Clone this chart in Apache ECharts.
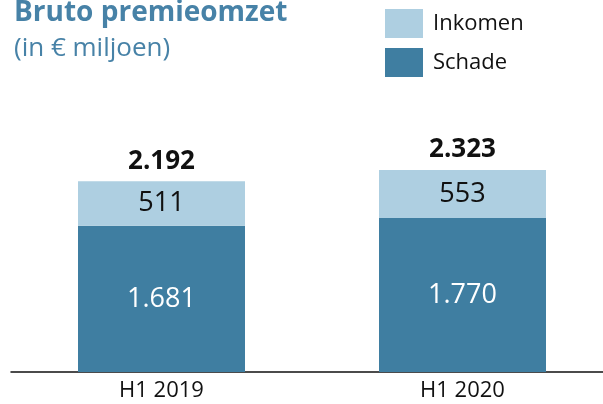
<!DOCTYPE html>
<html>
<head>
<meta charset="utf-8">
<script src="https://cdn.jsdelivr.net/npm/echarts@6/dist/echarts.min.js"></script>
<style>
  html, body { margin: 0; padding: 0; background: #fff; }
  #chart { width: 603px; height: 404px; }
</style>
</head>
<body>
<div id="chart"></div>
<script>
  const categories = ['H1 2019', 'H1 2020'];
  const schade = [1681, 1770];
  const inkomen = [511, 553];
  const totals = [2192, 2323];

  const DARK = '#3f7ea1';
  const LIGHT = '#aecfe1';
  const FONT = '"Open Sans", "Noto Sans", sans-serif';

  // Dutch thousands separator
  const fmt = (v) => String(v).replace(/\B(?=(\d{3})+(?!\d))/g, '.');

  const chart = echarts.init(document.getElementById('chart'), null, { renderer: 'canvas' });

  chart.setOption({
    animation: false,
    textStyle: { fontFamily: FONT },
    title: {
      text: 'Bruto premieomzet',
      subtext: '(in € miljoen)',
      left: 9,
      top: -6,
      itemGap: 9,
      textStyle: { color: '#4782a7', fontSize: 28, fontWeight: 'bold', fontFamily: FONT },
      subtextStyle: { color: '#4782a7', fontSize: 26, fontFamily: FONT }
    },
    legend: {
      orient: 'vertical',
      left: 380,
      top: 4,
      itemWidth: 38,
      itemHeight: 29,
      itemGap: 10,
      icon: 'rect',
      data: ['Inkomen', 'Schade'],
      textStyle: { fontSize: 22, color: '#111', fontFamily: FONT, padding: [0, 0, 2, 5] }
    },
    grid: { left: 11, width: 602, top: 111, bottom: 32, outerBoundsMode: 'none' },
    xAxis: {
      type: 'category',
      data: categories,
      axisLine: { lineStyle: { color: '#111', width: 1.5 } },
      axisTick: { show: false },
      axisLabel: { fontSize: 22, color: '#111', margin: 8, fontFamily: FONT }
    },
    yAxis: {
      type: 'value',
      min: 0,
      max: 3000,
      show: false,
      splitLine: { show: false }
    },
    series: [
      {
        name: 'Schade',
        type: 'bar',
        stack: 'total',
        barWidth: 167,
        data: schade,
        itemStyle: { color: DARK },
        label: {
          show: true,
          position: 'inside',
          color: '#fff',
          fontSize: 27,
          fontFamily: FONT,
          formatter: (p) => fmt(p.value)
        }
      },
      {
        name: 'Inkomen',
        type: 'bar',
        stack: 'total',
        barWidth: 167,
        data: inkomen,
        itemStyle: { color: LIGHT },
        label: {
          show: true,
          position: 'inside',
          color: '#111',
          fontSize: 27,
          fontFamily: FONT,
          formatter: (p) => fmt(p.value)
        }
      },
      {
        name: 'Totaal',
        type: 'bar',
        stack: 'total',
        barWidth: 167,
        data: totals.map(() => 0),
        itemStyle: { color: 'transparent' },
        label: {
          show: true,
          position: 'top',
          distance: 7,
          color: '#111',
          fontSize: 26,
          fontWeight: 'bold',
          fontFamily: FONT,
          formatter: (p) => fmt(totals[p.dataIndex])
        }
      }
    ]
  });
</script>
</body>
</html>
